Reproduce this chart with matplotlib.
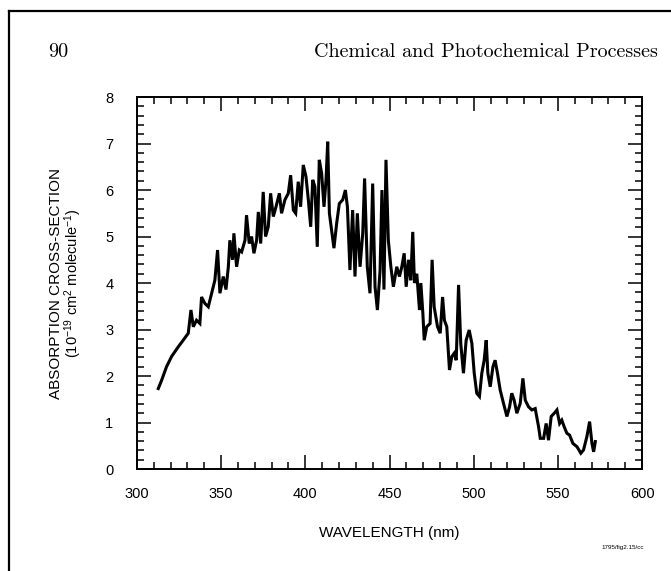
import matplotlib.pyplot as plt
from matplotlib.lines import Line2D
from matplotlib.ticker import MultipleLocator

# absorption spectrum
wavelength = [
    312.7, 314.7, 317.6, 320.6, 324.6, 327.5, 330.5, 332.1, 333.5, 335.4,
    337.4, 338.4, 340.4, 342.4, 344.4, 346.3, 347.9, 349.3, 351.3, 352.9,
    354.3, 355.2, 356.8, 357.6, 359.2, 360.8, 362.2, 364.2, 365.1, 366.7,
    368.1, 369.5, 371.1, 372.1, 373.5, 375.0, 376.4, 378.0, 379.4, 381.0,
    382.6, 384.6, 385.9, 387.9, 389.9, 391.3, 392.9, 394.3, 395.8, 397.2,
    398.8, 400.4, 401.8, 403.2, 404.4, 405.7, 407.1, 408.3, 409.7, 411.1,
    412.3, 413.3, 414.3, 415.6, 417.0, 418.6, 420.2, 422.2, 423.8, 425.0,
    426.5, 428.1, 429.5, 430.9, 432.5, 434.1, 435.2, 436.8, 438.4, 440.0,
    441.4, 442.8, 444.4, 445.5, 446.7, 447.9, 449.3, 450.8, 452.3, 454.3,
    455.9, 457.3, 458.7, 459.9, 461.3, 462.6, 463.8, 464.8, 466.2, 467.8,
    468.6, 469.8, 470.6, 472.1, 474.1, 475.3, 476.5, 478.5, 480.1, 481.5,
    482.6, 484.0, 485.6, 487.0, 488.4, 489.6, 491.0, 492.3, 493.9, 495.5,
    497.3, 498.9, 500.3, 501.8, 503.4, 504.8, 506.2, 507.4, 508.4, 509.8,
    511.4, 512.7, 514.1, 515.7, 517.7, 519.7, 521.3, 522.6, 524.0, 525.6,
    527.6, 529.2, 530.6, 532.5, 534.5, 536.5, 538.5, 539.5, 541.5, 543.0,
    544.4, 546.0, 547.8, 549.4, 551.0, 552.3, 553.7, 555.3, 556.9, 558.9,
    561.3, 563.6, 565.2, 567.2, 568.8, 570.2, 571.2, 572.2,
]
cross_section = [
    1.73, 1.91, 2.2, 2.42, 2.63, 2.77, 2.92, 3.42, 3.06, 3.2,
    3.13, 3.7, 3.56, 3.49, 3.78, 4.06, 4.71, 3.78, 4.14, 3.86,
    4.35, 4.92, 4.5, 5.07, 4.35, 4.71, 4.67, 4.92, 5.46, 4.85,
    5.0, 4.64, 4.92, 5.53, 4.85, 5.96, 5.0, 5.21, 5.93, 5.43,
    5.64, 5.93, 5.5, 5.79, 5.93, 6.32, 5.57, 5.5, 6.18, 5.64,
    6.54, 6.29, 5.79, 5.21, 6.22, 6.07, 4.78, 6.65, 6.36, 5.64,
    6.22, 7.04, 5.5, 5.14, 4.75, 5.28, 5.71, 5.79, 6.0, 5.64,
    4.28, 5.57, 4.14, 5.5, 4.35, 5.07, 6.25, 4.35, 3.78, 6.14,
    3.92, 3.42, 4.28, 6.0, 3.86, 6.65, 4.92, 4.35, 3.92, 4.35,
    4.14, 4.35, 4.64, 3.92, 4.5, 4.06, 5.1, 4.0, 4.2, 3.42,
    4.0, 3.35, 2.77, 3.06, 3.13, 4.5, 3.49, 3.06, 2.92, 3.7,
    3.2, 3.06, 2.13, 2.42, 2.49, 2.34, 3.96, 2.7, 2.06, 2.77,
    2.99, 2.7, 2.06, 1.63, 1.56, 2.06, 2.34, 2.77, 2.06, 1.77,
    2.2, 2.34, 2.06, 1.7, 1.41, 1.13, 1.34, 1.63, 1.48, 1.2,
    1.41, 1.95, 1.48, 1.34, 1.27, 1.3, 0.91, 0.66, 0.66, 0.98,
    0.62, 1.13, 1.2, 1.27, 0.98, 1.05, 0.91, 0.77, 0.73, 0.55,
    0.48, 0.34, 0.41, 0.7, 1.02, 0.55, 0.37, 0.59,
]

x_ticks = [300, 350, 400, 450, 500, 550, 600]
y_ticks = [0, 1, 2, 3, 4, 5, 6, 7, 8]

plt.rcParams['font.family'] = ['Liberation Sans', 'DejaVu Sans']
plt.rcParams['mathtext.fontset'] = 'custom'
plt.rcParams['mathtext.rm'] = 'Liberation Sans'
plt.rcParams['mathtext.it'] = 'Liberation Sans:italic'

fig = plt.figure(figsize=(6.71, 5.71), dpi=100)
ax = fig.add_axes([0.204, 0.1786, 0.753, 0.6514])

ax.plot(wavelength, cross_section, color='black', lw=2.2,
        solid_joinstyle='miter')

ax.set_xlim(300, 600)
ax.set_ylim(0, 8)
ax.set_xticks(x_ticks)
ax.set_yticks(y_ticks)
ax.xaxis.set_minor_locator(MultipleLocator(10))
ax.yaxis.set_minor_locator(MultipleLocator(0.2))
ax.tick_params(which='both', direction='in', top=True, right=True,
               width=1.1, color='black')
ax.tick_params(which='major', length=10)
ax.tick_params(which='minor', length=5)
ax.tick_params(axis='x', which='major', pad=13, labelsize=10.5)
ax.tick_params(axis='y', which='major', pad=17, labelsize=10.5)
for s in ax.spines.values():
    s.set_linewidth(1.4)

ax.set_xlabel('WAVELENGTH (nm)', fontsize=11, labelpad=18)

fig.text(0.084, 0.504, 'ABSORPTION CROSS-SECTION', rotation=90,
         ha='center', va='center', fontsize=11)
fig.text(0.109, 0.504, r'(10$^{-19}$ cm$^2$ molecule$^{-1}$)', rotation=90,
         ha='center', va='center', fontsize=10.5)

# page header from the scanned book
fig.text(0.087, 0.909, '90', family='cmr10', fontsize=14.5,
         ha='center', va='center')
fig.text(0.981, 0.909, 'Chemical and Photochemical Processes', family='cmr10',
         fontsize=14.5, ha='right', va='center')
fig.text(0.96, 0.042, '1795/fig2.15/cc', fontsize=4.5, ha='right',
         va='center')

# scan frame (top and left edges)
fig.add_artist(Line2D([0.0134, 1.0], [0.981, 0.981], color='black', lw=1.6,
                      transform=fig.transFigure))
fig.add_artist(Line2D([0.0134, 0.0134], [0.0, 0.981], color='black', lw=1.6,
                      transform=fig.transFigure))

fig.savefig('out.png', dpi=100)
